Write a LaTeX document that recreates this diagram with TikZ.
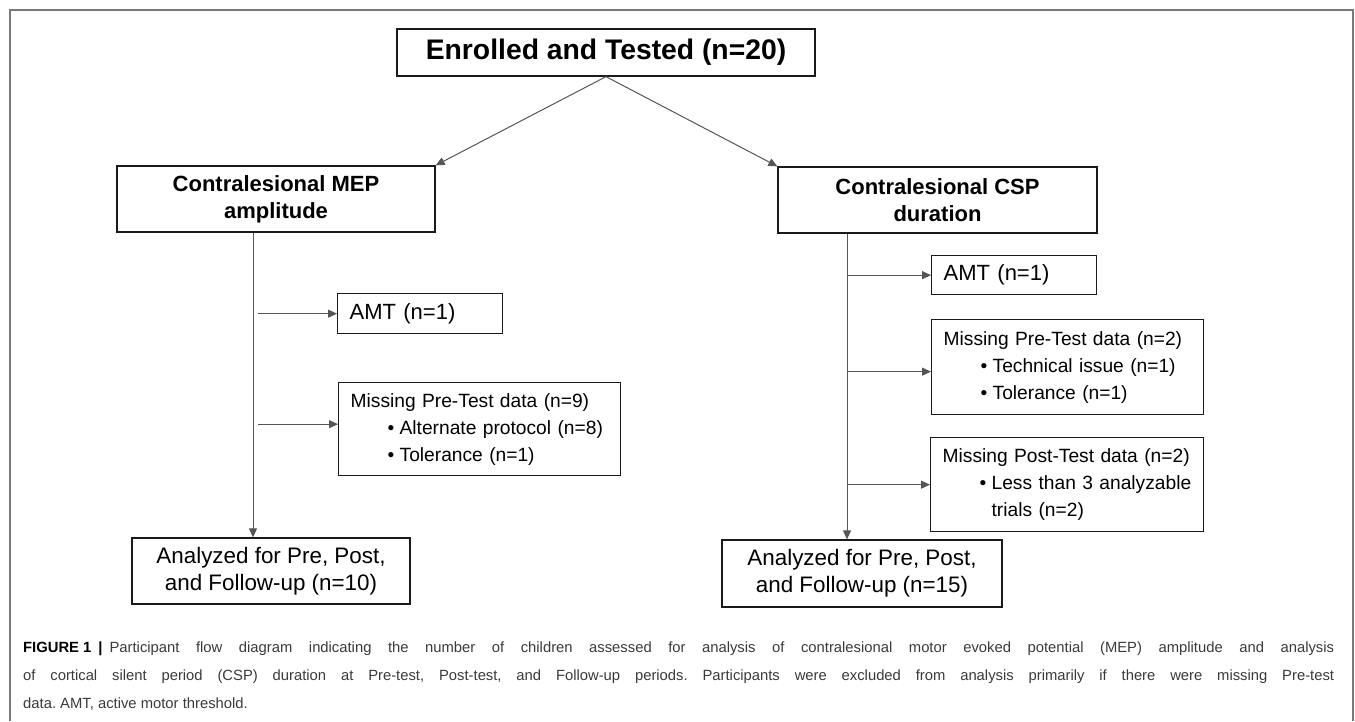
\documentclass[tikz,border=0pt]{standalone}
\usepackage{fontspec}
\setmainfont{Liberation Sans}
\usetikzlibrary{arrows.meta}
\definecolor{ink}{HTML}{1A1A1A}
\definecolor{wire}{HTML}{555555}
\definecolor{framegray}{HTML}{7A7A7A}
\definecolor{captext}{HTML}{3A3A3A}
\hyphenpenalty=10000
\exhyphenpenalty=10000
\frenchspacing
\tikzset{
  box/.style={draw=ink, line width=1.3pt, fill=white, text=black, inner sep=0pt,
    font=\fontsize{22}{27}\selectfont},
  topbox/.style={box, align=center, font=\bfseries\fontsize{28.3}{34}\selectfont},
  headbox/.style={box, align=center, font=\bfseries\fontsize{22}{27}\selectfont},
  exclbox/.style={box, anchor=north west, align=left, inner xsep=12pt},
  reasonbox/.style={exclbox, font=\fontsize{19.2}{27}\selectfont},
  resultbox/.style={box, align=center, font=\fontsize{22.4}{27}\selectfont},
  flow/.style={-{Triangle[length=9pt,width=8pt]}, draw=wire, line width=1pt},
  caption/.style={anchor=north west, inner sep=0pt, text width=1311pt, align=justify,
    text=captext, font=\fontsize{14.8}{28}\selectfont},
}
\newcommand{\bul}[1]{\hspace*{37pt}\makebox[12pt][l]{•}#1}
\newcommand{\bulcont}[1]{\hspace*{49pt}#1}

\begin{document}
\begin{tikzpicture}[x=1pt, y=-1pt]
\useasboundingbox (0,0) rectangle (1355,721);

% frame
\draw[framegray, line width=2pt] (9.5,721) -- (9.5,9.5) -- (1353,9.5) -- (1353,721);

% top
\node[topbox, minimum width=418pt, minimum height=47pt] (enr) at (606,52.5) {Enrolled and Tested (n=20)};
\node[headbox, minimum width=318pt, minimum height=66pt] (mep) at (276,199) {Contralesional MEP\\amplitude};
\node[headbox, minimum width=319pt, minimum height=66pt] (csp) at (937.5,200) {Contralesional CSP\\duration};
\draw[flow] (enr.south) -- (mep.north east);
\draw[flow] (enr.south) -- (csp.north west);

% MEP branch
\node[exclbox, text width=141pt, minimum height=40pt] (amtL) at (337,293) {AMT (n=1)};
\node[reasonbox, text width=258pt, minimum height=93pt] (preL) at (338,382) {Missing Pre-Test data (n=9)\\
  \bul{Alternate protocol (n=8)}\\
  \bul{Tolerance (n=1)}};
\node[resultbox, minimum width=278pt, minimum height=66pt] (anaL) at (271,571) {Analyzed for Pre, Post,\\and Follow-up (n=10)};
\draw[flow] ([xshift=-23pt]mep.south) -- ([xshift=-23pt]mep.south |- anaL.north);
\draw[flow] ([xshift=-79pt]amtL.west) -- (amtL.west);
\draw[flow] ([xshift=-80pt,yshift=5pt]preL.west) -- ([yshift=5pt]preL.west);

% CSP branch
\node[exclbox, text width=141pt, minimum height=39pt] (amtR) at (931,255) {AMT (n=1)};
\node[reasonbox, text width=248pt, minimum height=95pt] (preR) at (931,319) {Missing Pre-Test data (n=2)\\
  \bul{Technical issue (n=1)}\\
  \bul{Tolerance (n=1)}};
\node[reasonbox, text width=249pt, minimum height=94pt] (postR) at (930,437) {Missing Post-Test data (n=2)\\
  \bul{Less than 3 analyzable}\\
  \bulcont{trials (n=2)}};
\node[resultbox, minimum width=280pt, minimum height=67pt] (anaR) at (862,573.5) {Analyzed for Pre, Post,\\and Follow-up (n=15)};
\draw[flow] ([xshift=-90.5pt]csp.south) -- ([xshift=-90.5pt]csp.south |- anaR.north);
\draw[flow] ([xshift=-83pt]amtR.west) -- (amtR.west);
\draw[flow] ([xshift=-83pt,yshift=-4.5pt]preR.west) -- ([yshift=-4.5pt]preR.west);
\draw[flow] ([xshift=-82pt]postR.west) -- (postR.west);

% caption
\node[caption] (cap) at (23,642) {\textcolor{black}{\textbf{\mbox{FIGURE 1}}\hspace{7pt}\textbf{|}\hspace{7pt}}Participant flow diagram indicating the number of children assessed for analysis of contralesional motor evoked potential (MEP) amplitude and analysis\linebreak
of cortical silent period (CSP) duration at Pre-test, Post-test, and Follow-up periods. Participants were excluded from analysis primarily if there were missing Pre-test\linebreak
data. AMT, active motor threshold.};
\end{tikzpicture}
\end{document}
